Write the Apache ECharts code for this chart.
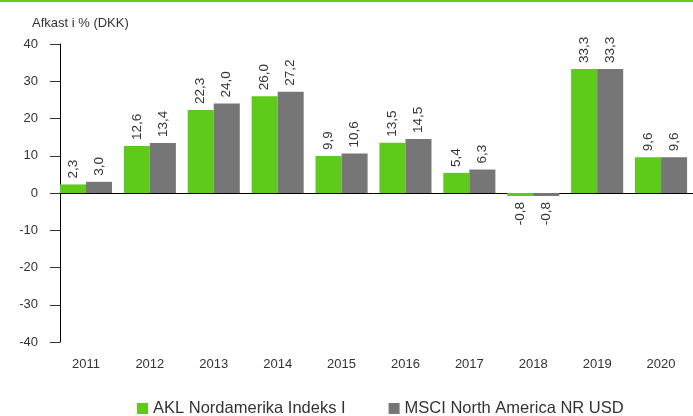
<!DOCTYPE html>
<html>
<head>
<meta charset="utf-8">
<script src="https://cdn.jsdelivr.net/npm/echarts@6/dist/echarts.min.js"></script>
<style>
  html, body { margin: 0; padding: 0; background: #fff; }
  #chart { width: 693px; height: 416px; }
</style>
</head>
<body>
<div id="chart"></div>
<script>
// data
var years = ['2011', '2012', '2013', '2014', '2015', '2016', '2017', '2018', '2019', '2020'];
var aklValues = [2.3, 12.6, 22.3, 26.0, 9.9, 13.5, 5.4, -0.8, 33.3, 9.6];
var msciValues = [3.0, 13.4, 24.0, 27.2, 10.6, 14.5, 6.3, -0.8, 33.3, 9.6];
var seriesNames = ['AKL Nordamerika Indeks I', 'MSCI North America NR USD'];
var yTicks = [-40, -30, -20, -10, 0, 10, 20, 30, 40];

var fontFam = '"Liberation Sans", Arial, sans-serif';
var green = '#5ECB1A';
var grey = '#767676';

// comma as decimal mark, labels turned for negative bars
function withLabels(values) {
  return values.map(function (v) {
    if (v < 0) {
      return { value: v, label: { position: 'bottom', align: 'right' } };
    }
    return v;
  });
}

var chart = echarts.init(document.getElementById('chart'), null, { renderer: 'canvas' });

var labelCfg = {
  show: true,
  position: 'top',
  rotate: 90,
  align: 'left',
  verticalAlign: 'middle',
  distance: 6,
  fontSize: 13.5,
  color: '#333',
  fontFamily: fontFam,
  formatter: function (p) { return p.value.toFixed(1).replace('.', ','); }
};

var option = {
  animation: false,
  backgroundColor: '#fff',
  textStyle: { fontFamily: fontFam },
  graphic: [
    { type: 'rect', left: 0, top: 0, shape: { width: 693, height: 2 }, style: { fill: '#66CC22' } },
    { type: 'text', left: 32, top: 17, style: { text: 'Afkast i % (DKK)', fontSize: 13, fill: '#333', fontFamily: fontFam } }
  ],
  legend: {
    left: 132,
    top: 395,
    itemWidth: 11,
    itemHeight: 11,
    itemGap: 43,
    icon: 'rect',
    textStyle: { fontSize: 16.5, color: '#333', fontFamily: fontFam },
    data: seriesNames
  },
  grid: { left: 54, right: -10, top: 44, bottom: 74 },
  xAxis: [
    {
      type: 'category',
      data: years,
      position: 'bottom',
      axisLine: { show: false, onZero: false },
      axisTick: { show: false },
      axisLabel: { fontSize: 13, color: '#333', margin: 16, fontFamily: fontFam }
    },
    {
      type: 'category',
      data: years,
      position: 'top',
      axisLine: { show: true, onZero: true, lineStyle: { color: '#000', width: 1 } },
      axisTick: { show: false },
      axisLabel: { show: false }
    }
  ],
  yAxis: {
    type: 'value',
    min: -40,
    max: 40,
    interval: 10,
    offset: -6,
    axisLine: { show: true, lineStyle: { color: '#000', width: 1 } },
    axisTick: { show: true, inside: false, length: 10, lineStyle: { color: '#333' } },
    splitLine: { show: false },
    axisLabel: {
      fontSize: 13, color: '#333', margin: 22, fontFamily: fontFam,
      formatter: function (v) { return yTicks.indexOf(v) >= 0 ? String(v) : ''; }
    }
  },
  series: [
    {
      name: seriesNames[0],
      type: 'bar',
      xAxisIndex: 0,
      data: withLabels(aklValues),
      itemStyle: { color: green },
      barGap: '0%',
      barCategoryGap: '18.5%',
      label: labelCfg
    },
    {
      name: seriesNames[1],
      type: 'bar',
      xAxisIndex: 0,
      data: withLabels(msciValues),
      itemStyle: { color: grey },
      barGap: '0%',
      barCategoryGap: '18.5%',
      label: labelCfg
    }
  ]
};

chart.setOption(option);
</script>
</body>
</html>
